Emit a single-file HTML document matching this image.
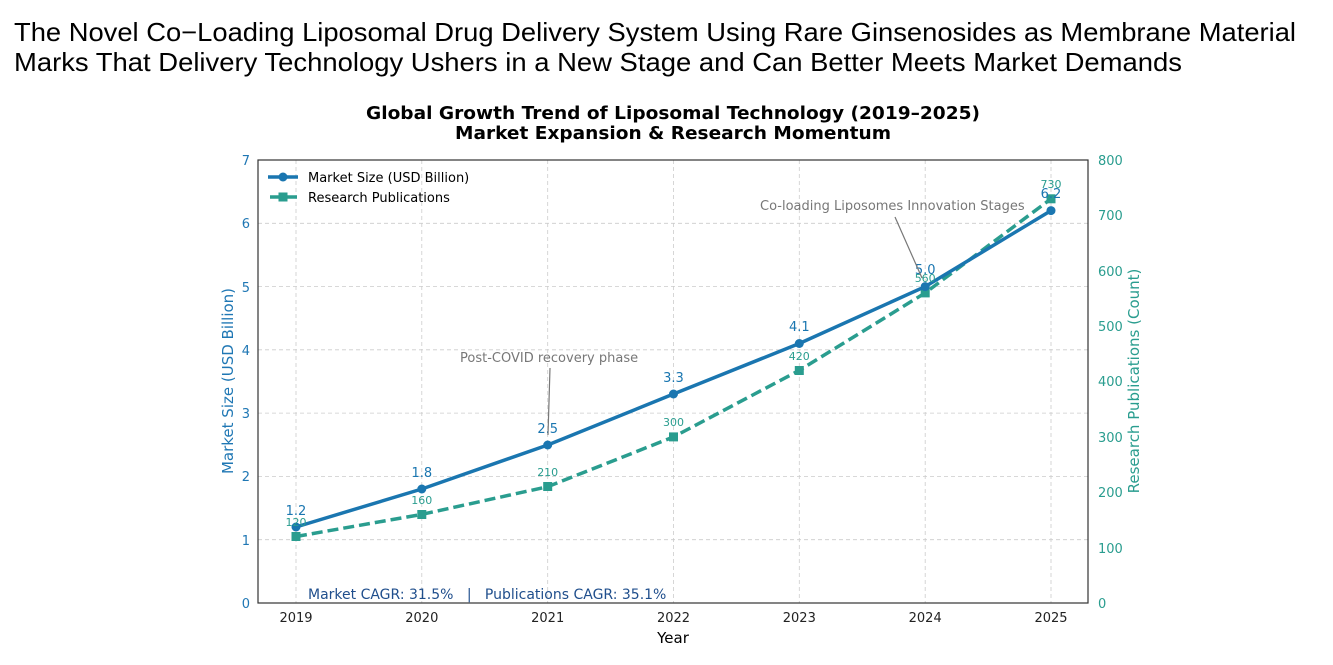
<!DOCTYPE html>
<html><head><meta charset="utf-8"><style>
body{margin:0;background:#fff;width:1333px;height:660px;overflow:hidden}
svg text{font-family:"DejaVu Sans","Liberation Sans",sans-serif}
</style></head><body>
<svg width="1333" height="660" viewBox="0 0 1333 660" xmlns="http://www.w3.org/2000/svg">
<text x="14" y="41" style="font-family:'Liberation Sans',sans-serif" font-size="26" fill="#000" textLength="1282" lengthAdjust="spacingAndGlyphs">The Novel Co−Loading Liposomal Drug Delivery System Using Rare Ginsenosides as Membrane Material</text>
<text x="14" y="71" style="font-family:'Liberation Sans',sans-serif" font-size="26" fill="#000" textLength="1168" lengthAdjust="spacingAndGlyphs">Marks That Delivery Technology Ushers in a New Stage and Can Better Meets Market Demands</text>
<text x="673" y="119" font-size="18" font-weight="bold" text-anchor="middle" textLength="614" lengthAdjust="spacingAndGlyphs">Global Growth Trend of Liposomal Technology (2019–2025)</text>
<text x="673" y="139" font-size="18" font-weight="bold" text-anchor="middle" textLength="436" lengthAdjust="spacingAndGlyphs">Market Expansion &amp; Research Momentum</text>
<g stroke="#ccc" stroke-dasharray="4,3" stroke-width="0.8">
<line x1="296" y1="160" x2="296" y2="603"/><line x1="421.8" y1="160" x2="421.8" y2="603"/><line x1="547.7" y1="160" x2="547.7" y2="603"/><line x1="673.5" y1="160" x2="673.5" y2="603"/><line x1="799.3" y1="160" x2="799.3" y2="603"/><line x1="925.2" y1="160" x2="925.2" y2="603"/><line x1="1051" y1="160" x2="1051" y2="603"/>
<line x1="258" y1="539.7" x2="1088" y2="539.7"/><line x1="258" y1="476.4" x2="1088" y2="476.4"/><line x1="258" y1="413.1" x2="1088" y2="413.1"/><line x1="258" y1="349.8" x2="1088" y2="349.8"/><line x1="258" y1="286.6" x2="1088" y2="286.6"/><line x1="258" y1="223.3" x2="1088" y2="223.3"/>
</g>
<rect x="258" y="160" width="830" height="443" fill="none" stroke="#333" stroke-width="1.2"/>
<g font-size="13" fill="#1f77b4" text-anchor="end">
<text x="250" y="608">0</text><text x="250" y="545">1</text><text x="250" y="481">2</text><text x="250" y="418">3</text><text x="250" y="355">4</text><text x="250" y="292">5</text><text x="250" y="228">6</text><text x="250" y="165">7</text></g>
<g font-size="13" fill="#2a9d8f">
<text x="1098" y="608">0</text><text x="1098" y="553">100</text><text x="1098" y="497">200</text><text x="1098" y="442">300</text><text x="1098" y="386">400</text><text x="1098" y="331">500</text><text x="1098" y="276">600</text><text x="1098" y="220">700</text><text x="1098" y="165">800</text></g>
<g font-size="13" fill="#222" text-anchor="middle">
<text x="296" y="622">2019</text><text x="421.8" y="622">2020</text><text x="547.7" y="622">2021</text><text x="673.5" y="622">2022</text><text x="799.3" y="622">2023</text><text x="925.2" y="622">2024</text><text x="1051" y="622">2025</text></g>
<text x="673" y="643" font-size="15" text-anchor="middle">Year</text>
<text transform="translate(233,381) rotate(-90)" font-size="15" fill="#1f77b4" text-anchor="middle">Market Size (USD Billion)</text>
<text transform="translate(1139,381) rotate(-90)" font-size="15" fill="#2a9d8f" text-anchor="middle">Research Publications (Count)</text>
<polyline points="296,536.5 421.8,514.4 547.7,486.7 673.5,436.9 799.3,370.4 925.2,292.9 1051,198.8" fill="none" stroke="#2a9d8f" stroke-width="3.5" stroke-dasharray="11,5"/>
<g fill="#2a9d8f"><rect x="291.5" y="532" width="9" height="9"/><rect x="417.3" y="510" width="9" height="9"/><rect x="543.2" y="482" width="9" height="9"/><rect x="669" y="432.4" width="9" height="9"/><rect x="794.8" y="366" width="9" height="9"/><rect x="920.7" y="288.4" width="9" height="9"/><rect x="1046.5" y="194.3" width="9" height="9"/></g>
<polyline points="296,527 421.8,489 547.7,445 673.5,394 799.3,343.5 925.2,286.6 1051,210.6" fill="none" stroke="#1a76b0" stroke-width="3.5"/>
<g fill="#1a76b0"><circle cx="296" cy="527" r="4.5"/><circle cx="421.8" cy="489" r="4.5"/><circle cx="547.7" cy="445" r="4.5"/><circle cx="673.5" cy="394" r="4.5"/><circle cx="799.3" cy="343.5" r="4.5"/><circle cx="925.2" cy="286.6" r="4.5"/><circle cx="1051" cy="210.6" r="4.5"/></g>
<g font-size="13" fill="#1a76b0" text-anchor="middle">
<text x="296" y="515">1.2</text><text x="421.8" y="477">1.8</text><text x="547.7" y="433">2.5</text><text x="673.5" y="382">3.3</text><text x="799.3" y="331">4.1</text><text x="925.2" y="274">5.0</text><text x="1051" y="198">6.2</text></g>
<g font-size="11" fill="#2a9d8f" text-anchor="middle">
<text x="296" y="526">120</text><text x="421.8" y="504">160</text><text x="547.7" y="476">210</text><text x="673.5" y="426">300</text><text x="799.3" y="360">420</text><text x="925.2" y="282">560</text><text x="1051" y="188">730</text></g>
<text x="460" y="362" font-size="13" fill="#777">Post-COVID recovery phase</text>
<line x1="550" y1="368" x2="548" y2="435" stroke="#777" stroke-width="1.2"/>
<text x="760" y="210" font-size="13" fill="#777">Co-loading Liposomes Innovation Stages</text>
<line x1="895" y1="217" x2="922" y2="278" stroke="#777" stroke-width="1.2"/>
<line x1="268" y1="177" x2="298" y2="177" stroke="#1a76b0" stroke-width="3.5"/><circle cx="283" cy="177" r="4.5" fill="#1a76b0"/>
<text x="308" y="182" font-size="13">Market Size (USD Billion)</text>
<line x1="270" y1="197" x2="298" y2="197" stroke="#2a9d8f" stroke-width="3.5" stroke-dasharray="11,5"/><rect x="278.5" y="192.5" width="9" height="9" fill="#2a9d8f"/>
<text x="308" y="202" font-size="13">Research Publications</text>
<text x="308" y="599" font-size="14" fill="#1f4e8c" xml:space="preserve" style="white-space:pre">Market CAGR: 31.5%   |   Publications CAGR: 35.1%</text>
</svg>
</body></html>
